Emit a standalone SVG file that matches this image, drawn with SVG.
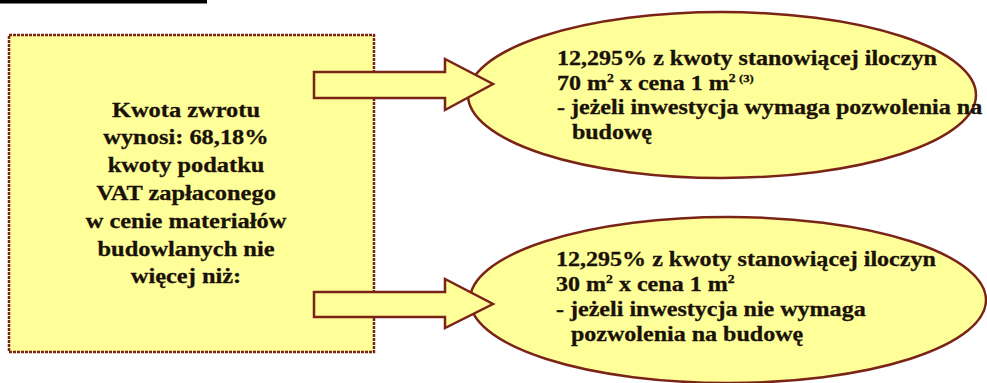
<svg xmlns="http://www.w3.org/2000/svg" width="987" height="383" viewBox="0 0 987 383">
<style>
.box{fill:#FFFF99;stroke:#7a2418;stroke-width:2.5}
.dot{stroke-dasharray:3 1}
.t{font-family:"Liberation Serif","Times New Roman",serif;font-weight:bold;fill:#1a1208;stroke:#1a1208;stroke-width:0.3}
.rt{font-size:22px;text-anchor:middle}
.et{font-size:21px}
.sup{font-size:12px}
.sup2{font-size:11px}
</style>
<rect x="0" y="0" width="207" height="3.5" fill="#000"/>
<g id="main">
<rect class="box dot" x="9" y="35" width="365" height="317"/>
<g transform="translate(186 0) scale(1.11 1)">
<text class="t rt" x="0" y="117">Kwota zwrotu</text>
<text class="t rt" x="0" y="144">wynosi: 68,18%</text>
<text class="t rt" x="0" y="172">kwoty podatku</text>
<text class="t rt" x="0" y="200">VAT zapłaconego</text>
<text class="t rt" x="0" y="228">w cenie materiałów</text>
<text class="t rt" x="0" y="256">budowlanych nie</text>
<text class="t rt" x="0" y="283">więcej niż:</text>
</g>
</g>
<g id="option1">
<ellipse class="box" cx="722" cy="95" rx="254" ry="83"/>
<g transform="translate(557 0) scale(1.145 1)">
<text class="t et" x="0" y="65">12,295% z kwoty stanowiącej iloczyn</text>
<text class="t et" x="0" y="90">70 m<tspan class="sup" dy="-8">2</tspan><tspan dy="8"> x cena 1 m</tspan><tspan class="sup" dy="-8">2 </tspan><tspan class="sup2">(3)</tspan></text>
<text class="t et" x="0" y="114">- jeżeli inwestycja wymaga pozwolenia na</text>
<text class="t et" x="13" y="139">budowę</text>
</g>
</g>
<g id="option2">
<ellipse class="box" cx="728" cy="300" rx="258" ry="83"/>
<g transform="translate(556 0) scale(1.145 1)">
<text class="t et" x="0" y="266">12,295% z kwoty stanowiącej iloczyn</text>
<text class="t et" x="0" y="291">30 m<tspan class="sup" dy="-8">2</tspan><tspan dy="8"> x cena 1 m</tspan><tspan class="sup" dy="-8">2</tspan></text>
<text class="t et" x="0" y="316">- jeżeli inwestycja nie wymaga</text>
<text class="t et" x="13" y="341">pozwolenia na budowę</text>
</g>
</g>
<g id="connectors">
<polygon class="box" points="314,72 445,72 445,59 493,84 445,110 445,98 314,98"/>
<polygon class="box" points="314,292 445,292 445,279 493,304 445,328 445,317 314,317"/>
</g>
</svg>
